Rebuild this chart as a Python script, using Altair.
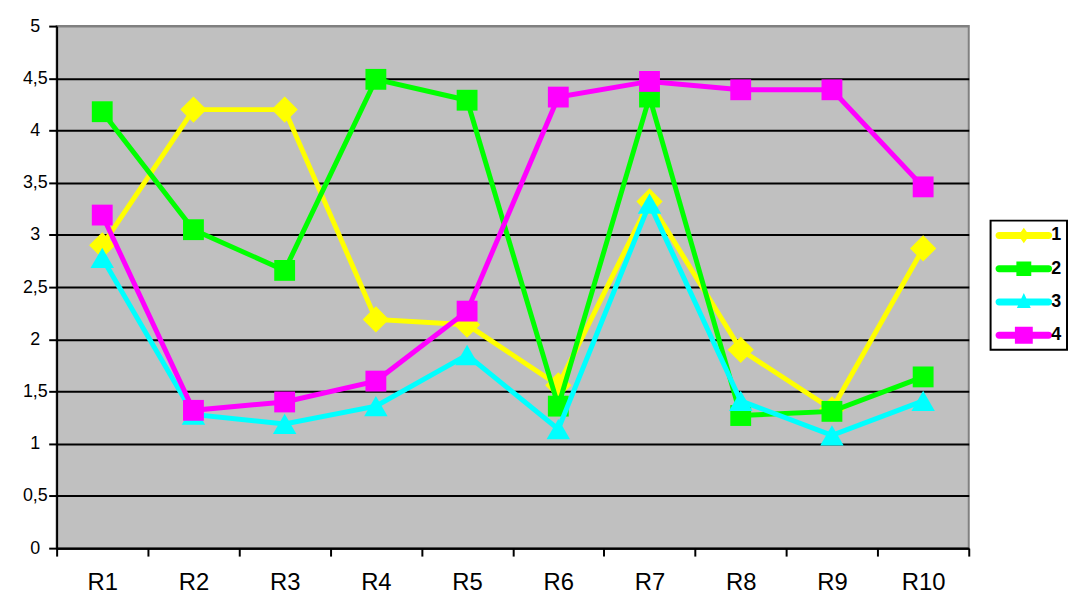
import altair as alt
import pandas as pd

categories = ["R1", "R2", "R3", "R4", "R5", "R6", "R7", "R8", "R9", "R10"]
series_names = ["1", "2", "3", "4"]
s1 = [2.90, 4.20, 4.20, 2.19, 2.14, 1.56, 3.32, 1.90, 1.33, 2.87]
s2 = [4.18, 3.05, 2.66, 4.49, 4.29, 1.36, 4.32, 1.27, 1.31, 1.64]
s3 = [2.78, 1.28, 1.19, 1.36, 1.85, 1.14, 3.30, 1.41, 1.08, 1.41]
s4 = [3.19, 1.32, 1.40, 1.60, 2.27, 4.32, 4.47, 4.39, 4.39, 3.46]
y_ticks = [0, 0.5, 1, 1.5, 2, 2.5, 3, 3.5, 4, 4.5, 5]

colors = ["#FFFF00", "#00FF00", "#00FFFF", "#FF00FF"]
marker_shapes = ["diamond", "square", "triangle-up", "square"]
marker_sizes = [700, 441, 560, 441]

# legend glyphs: a thick rounded line with the series marker in its middle
LINE = ("M-0.65,-0.35 L4.35,-0.35 A0.35,0.35 0 0 1 4.35,0.35 "
        "L-0.65,0.35 A0.35,0.35 0 0 1 -0.65,-0.35 Z ")
legend_paths = [
    LINE + "M1.85,-0.78 L2.4,0 L1.85,0.78 L1.3,0 Z",
    LINE + "M1.1,-0.72 L2.6,-0.72 L2.6,0.72 L1.1,0.72 Z",
    LINE + "M1.85,-0.9 L2.55,0.6 L1.15,0.6 Z",
    LINE + "M0.95,-0.86 L2.75,-0.86 L2.75,0.86 L0.95,0.86 Z",
]

rows = []
for name, vals in zip(series_names, [s1, s2, s3, s4]):
    for c, v in zip(categories, vals):
        rows.append({"cat": c, "series": name, "value": v})
df = pd.DataFrame(rows)

FONT = "Liberation Sans"

x_enc = alt.X(
    "cat:N", sort=categories, bandPosition=0.5, title=None,
    scale=alt.Scale(type="band", paddingInner=0, paddingOuter=0, domain=categories),
    axis=alt.Axis(
        tickBand="extent", tickSize=8, tickWidth=2, tickColor="black",
        domainColor="black", domainWidth=2, labelAngle=0,
        labelFont=FONT, labelFontSize=24, labelColor="black",
        labelBaseline="alphabetic", labelPadding=34,
        grid=False,
    ),
)
y_enc = alt.Y(
    "value:Q", title=None,
    scale=alt.Scale(domain=[0, 5], nice=False, zero=True),
    axis=alt.Axis(
        values=y_ticks, tickSize=8, tickWidth=2, tickColor="black",
        domainColor="black", domainWidth=2,
        labelFont=FONT, labelFontSize=18, labelColor="black",
        labelAlign="center", labelPadding=14,
        labelExpr="replace(format(datum.value, '~g'), '.', ',')",
        grid=True, gridWidth=2,
        gridColor={"condition": {"test": "datum.value >= 5", "value": "#808080"}, "value": "black"},
    ),
)

base = alt.Chart(df).encode(x=x_enc, y=y_enc)

layers = []
for name, col, shp, sz in zip(series_names, colors, marker_shapes, marker_sizes):
    sub = base.transform_filter(alt.datum.series == name)
    layers.append(sub.mark_line(color=col, strokeWidth=5))
    layers.append(sub.mark_point(color=col, filled=True, shape=shp, size=sz, opacity=1, strokeWidth=0))

leg_props = dict(
    orient="none", legendX=941, legendY=196, title=None,
    symbolSize=400, symbolStrokeWidth=0, symbolOpacity=1,
    labelFont=FONT, labelFontSize=18, labelFontWeight="bold", labelColor="black",
    labelOffset=36, rowPadding=14.5, padding=5,
    strokeColor="black", fillColor="white",
)
legend_layer = base.mark_point(filled=True, opacity=0).encode(
    color=alt.Color("series:N", scale=alt.Scale(domain=series_names, range=colors),
                    legend=alt.Legend(**leg_props)),
    shape=alt.Shape("series:N", scale=alt.Scale(domain=series_names, range=legend_paths),
                    legend=alt.Legend(**leg_props)),
)
layers.append(legend_layer)

chart = alt.layer(*layers).properties(
    width=919, height=526,
    padding={"left": 49, "top": 16, "right": 100, "bottom": 47},
    autosize=alt.AutoSizeParams(type="none"),
).configure_view(
    fill="#C0C0C0", stroke="#808080", strokeWidth=2,
).configure_legend(strokeWidth=2)

chart.save("out.html", embed_options={"renderer": "svg", "actions": False})
